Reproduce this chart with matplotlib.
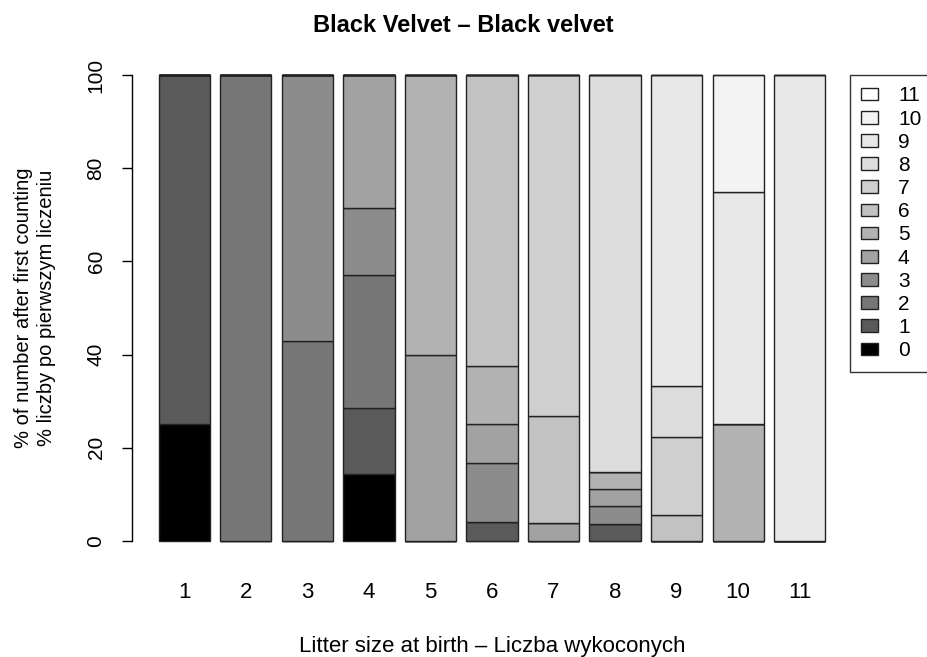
import numpy as np
import matplotlib
matplotlib.use("Agg")
import matplotlib.pyplot as plt
from matplotlib.patches import Patch

plt.rcParams["font.family"] = ["Liberation Sans", "DejaVu Sans"]

litter = ["1", "2", "3", "4", "5", "6", "7", "8", "9", "10", "11"]
after_count = ["0", "1", "2", "3", "4", "5", "6", "7", "8", "9", "10", "11"]

# number of litters per (number after first counting) and litter size at birth
n0 = [1, 0, 0, 1, 0, 0, 0, 0, 0, 0, 0]
n1 = [3, 0, 0, 1, 0, 1, 0, 1, 0, 0, 0]
n2 = [0, 1, 3, 2, 0, 0, 0, 0, 0, 0, 0]
n3 = [0, 0, 4, 1, 0, 3, 0, 1, 0, 0, 0]
n4 = [0, 0, 0, 2, 2, 2, 1, 1, 0, 0, 0]
n5 = [0, 0, 0, 0, 3, 3, 0, 1, 0, 1, 0]
n6 = [0, 0, 0, 0, 0, 15, 6, 0, 1, 0, 0]
n7 = [0, 0, 0, 0, 0, 0, 19, 0, 3, 0, 0]
n8 = [0, 0, 0, 0, 0, 0, 0, 23, 2, 0, 0]
n9 = [0, 0, 0, 0, 0, 0, 0, 0, 12, 2, 1]
n10 = [0, 0, 0, 0, 0, 0, 0, 0, 0, 1, 0]
n11 = [0, 0, 0, 0, 0, 0, 0, 0, 0, 0, 0]

greys = ["#000000", "#5a5a5a", "#767676", "#8c8c8c", "#a2a2a2", "#b2b2b2",
         "#c2c2c2", "#cfcfcf", "#dcdcdc", "#e8e8e8", "#f3f3f3", "#ffffff"]

counts = np.array([n0, n1, n2, n3, n4, n5, n6, n7, n8, n9, n10, n11], dtype=float)
pct = counts / counts.sum(axis=0) * 100

# barplot-like positions: width 1, space 0.2
x = 0.7 + 1.2 * np.arange(len(litter))

fig = plt.figure(figsize=(9.27, 6.57), dpi=100)
ax = fig.add_axes([132 / 927, 1 - 559.6 / 657, 720 / 927, 503.2 / 657])

bottom = np.zeros(len(litter))
for k in range(len(after_count)):
    ax.bar(x, pct[k], width=1.0, bottom=bottom, color=greys[k],
           edgecolor="#222222", linewidth=1.0)
    bottom += pct[k]

ax.set_xlim(-0.32, 13.72)
ax.set_ylim(-4, 104)
for s in ["top", "right", "bottom"]:
    ax.spines[s].set_visible(False)
ax.spines["left"].set_bounds(0, 100)
ax.spines["left"].set_linewidth(1.0)
ax.set_yticks([0, 20, 40, 60, 80, 100])
ax.set_yticklabels(["0", "20", "40", "60", "80", "100"], rotation=90,
                   va="center", fontsize=15)
ax.tick_params(axis="y", length=7, width=1.0, pad=12)
ax.set_xticks(x)
ax.set_xticklabels(litter, fontsize=16)
ax.tick_params(axis="x", length=0, pad=16)

ax.set_ylabel("% of number after first counting\n% liczby po pierwszym liczeniu",
              fontsize=14.5, labelpad=22, linespacing=1.25)
ax.set_xlabel("Litter size at birth \u2013 Liczba wykoconych", fontsize=16,
              labelpad=24)
fig.suptitle("Black Velvet \u2013 Black velvet", fontsize=17, fontweight="bold",
             y=0.978)

handles = [Patch(facecolor=greys[k], edgecolor="#222222", linewidth=1.0)
           for k in range(len(after_count))][::-1]
leg = ax.legend(handles, after_count[::-1], loc="upper left",
                bbox_to_anchor=(850 / 927, 1 - 75 / 657), bbox_transform=fig.transFigure,
                fontsize=15, frameon=True, fancybox=False, edgecolor="black",
                borderaxespad=0, borderpad=0.55, labelspacing=0.2,
                handlelength=0.8, handleheight=0.55, handletextpad=0.95)
leg.get_frame().set_linewidth(1.0)

fig.savefig("out.png", dpi=100)
